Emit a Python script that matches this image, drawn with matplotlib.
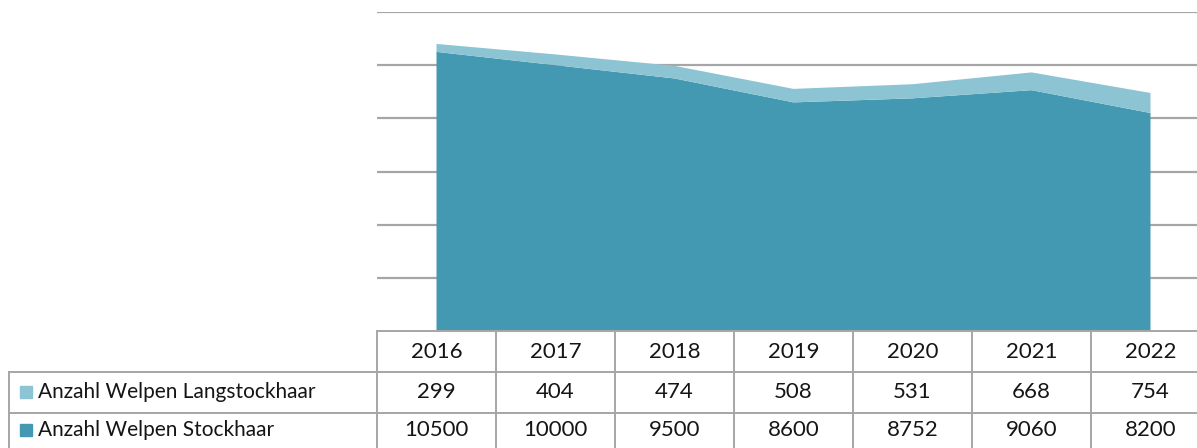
import matplotlib.pyplot as plt
from matplotlib.lines import Line2D
from matplotlib.patches import Rectangle
import numpy as np

plt.rcParams['font.family'] = ['Lato', 'DejaVu Sans']

years = ['2016', '2017', '2018', '2019', '2020', '2021', '2022']
stockhaar = [10500, 10000, 9500, 8600, 8752, 9060, 8200]
langstockhaar = [299, 404, 474, 508, 531, 668, 754]
series_names = ['Anzahl Welpen Langstockhaar', 'Anzahl Welpen Stockhaar']

col_dark = '#4399b1'
col_light = '#8cc4d4'
grid_col = '#a6a6a6'
txt_col = '#151515'

W, H = 1197, 448
fig = plt.figure(figsize=(W / 100, H / 100), dpi=100)

# chart area: columns are 119 px wide starting at x=377, bottom at y=331
left, col_w, bottom, top = 377, 119, 331, 12
ax = fig.add_axes([left / W, (H - bottom) / H, col_w * 7 / W, (bottom - top) / H])
x = np.arange(len(years))
ax.stackplot(x, stockhaar, langstockhaar, colors=[col_dark, col_light], linewidth=0)
ax.set_xlim(-0.5, len(years) - 0.5)
ax.set_ylim(0, 12000)
ax.set_yticks(np.arange(2000, 12001, 2000))
ax.yaxis.grid(True, color=grid_col, linewidth=1.6)
ax.set_axisbelow(True)
ax.tick_params(left=False, bottom=False, labelleft=False, labelbottom=False)
for s in ax.spines.values():
    s.set_visible(False)

# data table below, drawn in pixel coordinates
tx = fig.add_axes([0, 0, 1, 1])
tx.set_xlim(0, W)
tx.set_ylim(H, 0)
tx.axis('off')
tx.patch.set_alpha(0)

row_y = [331, 372, 413, 454]
label_left = 9
lw = 1.4
# horizontal lines
tx.add_line(Line2D([left, W], [row_y[0], row_y[0]], color=grid_col, lw=lw))
for yy in row_y[1:3]:
    tx.add_line(Line2D([label_left, W], [yy, yy], color=grid_col, lw=lw))
# vertical lines
tx.add_line(Line2D([label_left, label_left], [row_y[1], H], color=grid_col, lw=lw))
for i in range(len(years)):
    xx = left + i * col_w
    tx.add_line(Line2D([xx, xx], [row_y[0], H], color=grid_col, lw=lw))

fs_num = 16
fs_lab = 15
for i, yr in enumerate(years):
    cx = left + (i + 0.5) * col_w
    tx.text(cx, (row_y[0] + row_y[1]) / 2, yr, ha='center', va='center', fontsize=fs_num, color=txt_col)
    tx.text(cx, (row_y[1] + row_y[2]) / 2, str(langstockhaar[i]), ha='center', va='center', fontsize=fs_num, color=txt_col)
    tx.text(cx, (row_y[2] + row_y[3]) / 2 - 3, str(stockhaar[i]), ha='center', va='center', fontsize=fs_num, color=txt_col)

for r, (name, c) in enumerate(zip(series_names, [col_light, col_dark])):
    cy = (row_y[1 + r] + row_y[2 + r]) / 2 - (3 if r == 1 else 0)
    tx.add_patch(Rectangle((20, cy - 6), 12, 12, color=c))
    tx.text(38, cy, name, ha='left', va='center', fontsize=fs_lab, color=txt_col)

fig.savefig('out.png', dpi=100)
